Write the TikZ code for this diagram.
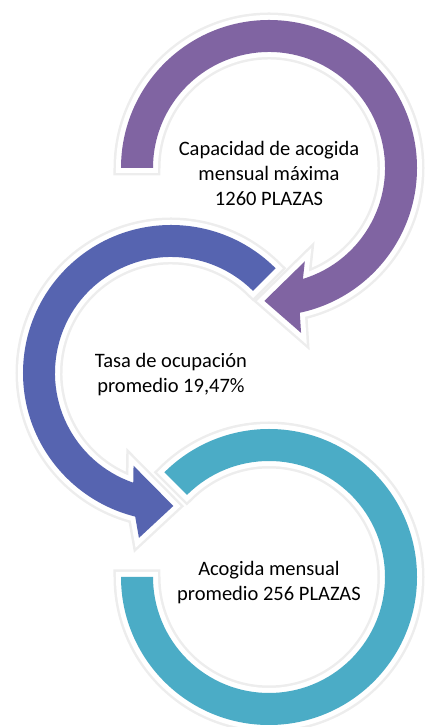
\documentclass[tikz,border=0pt]{standalone}
\usepackage{fontspec}
\setmainfont{Carlito}
\usetikzlibrary{positioning,calc}

\definecolor{arcpurple}{HTML}{8064A2}
\definecolor{arcblue}{HTML}{5664B0}
\definecolor{arcteal}{HTML}{4BACC6}

\begin{document}
\begin{tikzpicture}[x=1pt, y=1pt,
arcshape/.style={line join=round, preaction={draw=black!7, line width=15pt}, preaction={draw=white, line width=10pt}},
textnode/.style={align=center, font=\fontsize{20.5}{25}\selectfont},
]
\useasboundingbox (0,0) rectangle (424,727);

%Centres
\coordinate (purc) at (269,559);
\coordinate (bluc) at (171,354);
\coordinate (teac) at (269,150);

%Arcs
\begin{scope}[shift={(purc)}]
\path[arcshape, fill=arcpurple] (180:148pt) arc[start angle=180, end angle=-78, radius=148pt] -- (-79:168pt) -- (-92:133pt) -- (-69:100pt) -- (-73:116pt) arc[start angle=-73, end angle=180, radius=116pt] -- cycle;
\end{scope}
\begin{scope}[shift={(bluc)}]
\path[arcshape, fill=arcblue] (45:148pt) arc[start angle=45, end angle=256, radius=148pt] -- (259:168pt) -- (271:133pt) -- (248:100pt) -- (251:116pt) arc[start angle=251, end angle=45, radius=116pt] -- cycle;
\end{scope}
\begin{scope}[shift={(teac)}]
\path[arcshape, fill=arcteal] (180:148pt) arc[start angle=180, end angle=495, radius=148pt] -- (135:116pt) arc[start angle=135, end angle=-180, radius=116pt] -- cycle;
\end{scope}

%Nodes
\node[textnode] (capacidad) at (purc) [yshift=-5pt] {Capacidad de acogida\\mensual máxima\\1260 PLAZAS};
\node[textnode] (tasa) at (bluc) [yshift=-2pt] {Tasa de ocupación\\promedio 19,47\%};
\node[textnode] (acogida) at (teac) [yshift=-6pt] {Acogida mensual\\promedio 256 PLAZAS};

\end{tikzpicture}
\end{document}
